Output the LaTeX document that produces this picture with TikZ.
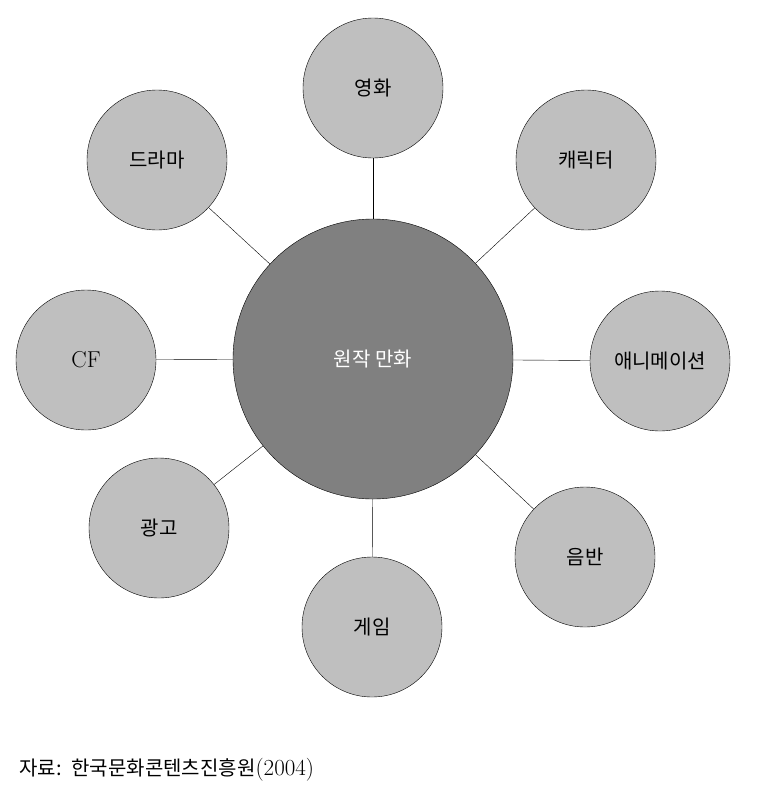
\documentclass[tikz,border=0pt]{standalone}
\usepackage{fontspec}
\newfontfamily\kr{Noto Sans CJK KR}
\usepackage{tikz}
\usetikzlibrary{positioning}

\begin{document}
\begin{tikzpicture}[
    x=1pt, y=-1pt,
    core/.style={draw, circle, minimum size=280pt, inner sep=0pt, fill=gray, text=white, font=\kr\fontsize{20}{22}\selectfont},
    field/.style={draw, circle, minimum size=140pt, inner sep=0pt, fill=lightgray, font=\kr\fontsize{20}{22}\selectfont},
    link/.style={thin, black},
]
\useasboundingbox (0,0) rectangle (778,793);

% Original comic
\node[core] (manhwa) at (373, 359) {원작 만화};

% Derived fields
\node[field] (movie) at (373, 88) {영화};
\node[field] (character) at (586, 160) {캐릭터};
\node[field] (anim) at (660, 361) {애니메이션};
\node[field] (album) at (585, 557) {음반};
\node[field] (game) at (372, 627) {게임};
\node[field] (ad) at (159, 528) {광고};
\node[field] (cf) at (86, 360) {\rmfamily\fontsize{23}{26}\selectfont CF};
\node[field] (drama) at (157, 160) {드라마};

% Caption
\node[anchor=west, inner sep=0pt, font=\kr\fontsize{20}{22}\selectfont] (source) at (19, 770) {자료:\hspace{10pt}한국문화콘텐츠진흥원{\rmfamily\fontsize{23}{26}\selectfont(2004)}};

% Links
\draw[link] (manhwa) -- (movie);
\draw[link] (manhwa) -- (character);
\draw[link] (manhwa) -- (anim);
\draw[link] (manhwa) -- (album);
\draw[link] (manhwa) -- (game);
\draw[link] (manhwa) -- (ad);
\draw[link] (manhwa) -- (cf);
\draw[link] (manhwa) -- (drama);

\end{tikzpicture}
\end{document}
